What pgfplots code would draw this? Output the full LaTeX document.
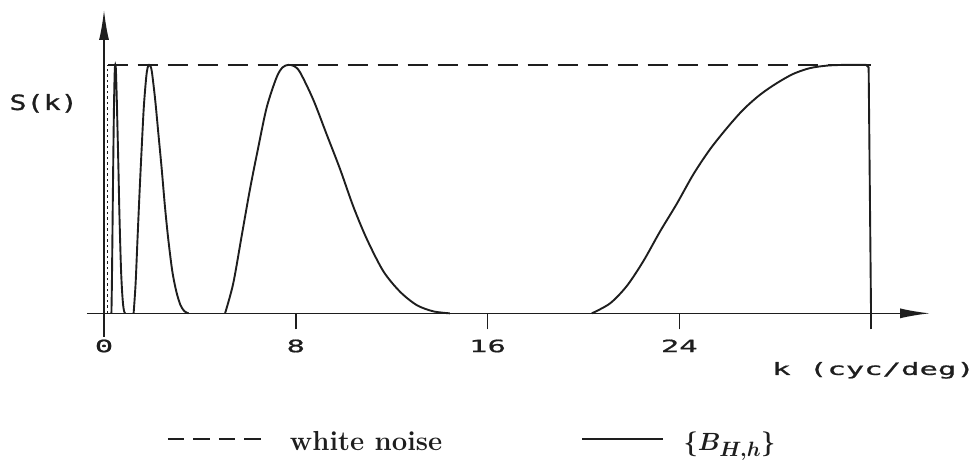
\documentclass[border=0pt]{standalone}
\usepackage{fontspec}
\usepackage{bm}
\usepackage{pgfplots}
\pgfplotsset{compat=1.18}
\usetikzlibrary{arrows.meta}
\newfontfamily\plotfont[FakeStretch=1.8,FakeBold=1]{DejaVu Sans Mono}
\newfontfamily\sidefont[FakeStretch=1.35,FakeBold=1]{DejaVu Sans Mono}
\definecolor{ink}{HTML}{1E1E1E}
\newcommand\plotlabelfont{\plotfont\fontsize{17}{17}\selectfont}
\newcommand\sidelabelfont{\sidefont\fontsize{21}{21}\selectfont}

\begin{document}
\begin{tikzpicture}
\useasboundingbox (-87pt,-125.3pt) rectangle (892pt,336.7pt);
\begin{axis}[
  at={(0pt,0pt)}, anchor=south west,
  scale only axis, width=843pt, height=326.7pt,
  xmin=-0.71, xmax=34.46, ymin=-0.094, ymax=1.221,
  axis lines=middle,
  axis line style={draw=ink, line width=1.6pt, -{Latex[length=30pt,width=10pt]}},
  xtick={0,8,16,24},
  extra x ticks={32},
  extra x tick style={xticklabel style={text opacity=0}},
  ytick=\empty,
  hide obscured x ticks=false,
  tick align=outside, major tick length=16pt,
  tick style={draw=ink, line width=1.5pt},
  /pgf/number format/assume math mode=true,
  xticklabel style={font=\plotlabelfont, text=ink, anchor=north, inner sep=0pt, yshift=-10pt},
  xlabel={k (cyc/deg)}, ylabel={S(k)},
  xlabel style={at={(axis description cs:1.0534,-0.117)}, anchor=base east,
    inner sep=0pt, font=\plotlabelfont, text=ink},
  ylabel style={at={(axis description cs:-0.0107,0.694)}, anchor=base east,
    inner sep=0pt, rotate=0, font=\sidelabelfont, text=ink},
  clip=false,
  legend columns=2,
  legend cell align=left,
  legend style={at={(0.0949,-0.322)}, anchor=west, draw=none, fill=none,
    inner sep=0pt, outer sep=0pt, text=ink,
    font=\fontsize{27.5}{30}\selectfont\bfseries},
]
% white-noise spectrum: flat level from near zero up to 32 cyc/deg
\addplot[forget plot, draw=ink, line width=1.4pt, dash pattern=on 2.5pt off 3pt]
  coordinates {(0.15,0) (0.15,1)};
\addplot[forget plot, draw=ink, line width=1.6pt, dash pattern=on 20pt off 10pt]
  coordinates {(0.15,1) (32,1)};

% band-pass components
\addplot[forget plot, draw=ink, line width=1.9pt, smooth] coordinates {
  (0.309,0) (0.329,0.12) (0.351,0.31) (0.372,0.50) (0.393,0.67) (0.415,0.83)
  (0.440,0.95) (0.455,0.99) (0.470,1.00) (0.485,0.995) (0.500,0.97)
  (0.533,0.86) (0.568,0.72) (0.602,0.58) (0.635,0.43) (0.670,0.30)
  (0.712,0.17) (0.755,0.087) (0.798,0.033) (0.840,0.008) (0.882,0)};
\addplot[forget plot, draw=ink, line width=1.9pt, smooth] coordinates {
  (1.235,0) (1.318,0.12) (1.402,0.31) (1.489,0.50) (1.574,0.67) (1.660,0.83)
  (1.760,0.95) (1.822,0.99) (1.880,1.00) (1.938,0.995) (2.000,0.97)
  (2.134,0.86) (2.271,0.72) (2.408,0.58) (2.542,0.43) (2.679,0.30)
  (2.848,0.17) (3.019,0.087) (3.190,0.033) (3.360,0.008) (3.527,0)};
\addplot[forget plot, draw=ink, line width=1.9pt, smooth] coordinates {
  (5.05,0) (5.39,0.12) (5.74,0.31) (6.09,0.50) (6.44,0.67) (6.79,0.83)
  (7.20,0.95) (7.45,0.99) (7.69,1.00) (7.93,0.995) (8.18,0.97)
  (8.73,0.86) (9.29,0.72) (9.85,0.58) (10.40,0.43) (10.96,0.30)
  (11.65,0.17) (12.35,0.087) (13.05,0.033) (13.74,0.008) (14.43,0)};
\addplot[forget plot, draw=ink, line width=1.9pt, smooth] coordinates {
  (20.35,0) (21.11,0.04) (21.81,0.11) (22.50,0.21) (23.20,0.33) (23.89,0.44)
  (24.59,0.56) (25.28,0.66) (25.98,0.745) (26.67,0.82) (27.37,0.88)
  (28.06,0.926) (28.76,0.964) (29.45,0.987) (30.15,0.997) (30.85,1.0)
  (31.80,1.0)};
\addplot[forget plot, draw=ink, line width=1.9pt] coordinates {
  (31.80,1.0) (31.90,0.99) (32.0,0)};

% legend samples; the invisible moves set the spacing around each sample
\addlegendimage{legend image code/.code={%
  \path (0pt,0pt) (120pt,0pt);%
  \draw[ink, line width=1.6pt, dash pattern=on 16.5pt off 9pt] (0pt,3pt) -- (93pt,3pt);}}
\addlegendentry{white noise}
\addlegendimage{legend image code/.code={%
  \path (-138pt,0pt) (91pt,0pt);%
  \draw[ink, line width=1.8pt] (0pt,3pt) -- (81pt,3pt);}}
\addlegendentry{\hspace*{8pt}{\fontsize{30}{33}\selectfont$\bm{\{B_{H,h}\}}$}}
\end{axis}
\end{tikzpicture}
\end{document}
